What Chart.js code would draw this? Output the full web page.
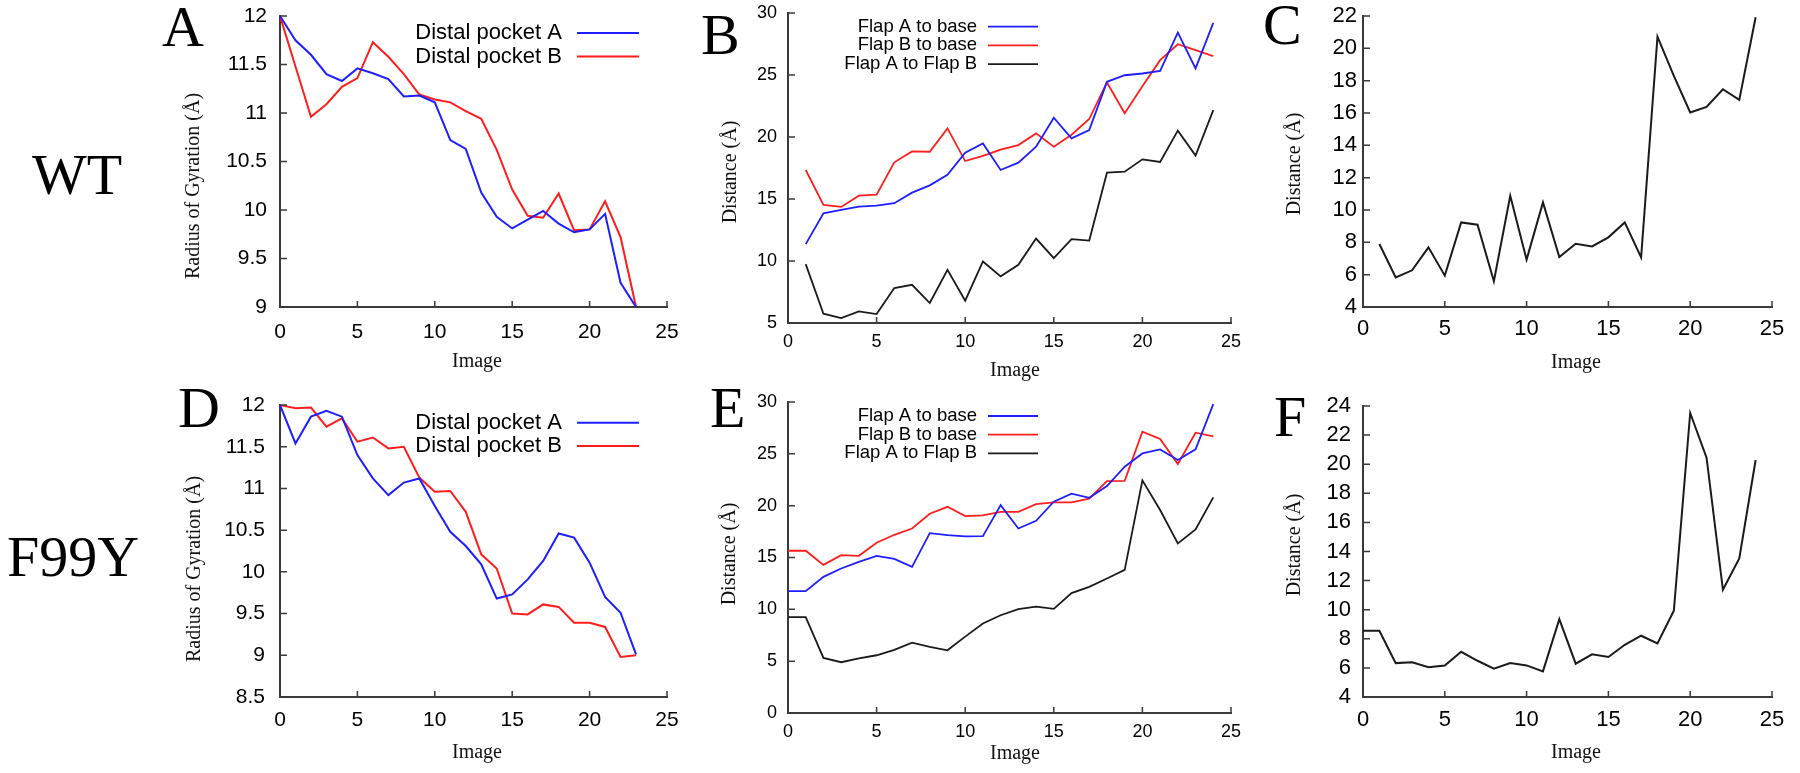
<!DOCTYPE html>
<html>
<head>
<meta charset="utf-8">
<script src="https://cdn.jsdelivr.net/npm/chart.js@4.4.1/dist/chart.umd.min.js"></script>
<style>
body { margin:0; background:#fff; width:1800px; height:773px; position:relative; overflow:hidden; }
canvas { position:absolute; }
.lbl { position:absolute; font-family:"Liberation Serif","Times New Roman",serif; font-size:58px; line-height:58px; color:#000; white-space:nowrap; }
</style>
</head>
<body>
<canvas id="cA"></canvas>
<canvas id="cB"></canvas>
<canvas id="cC"></canvas>
<canvas id="cD"></canvas>
<canvas id="cE"></canvas>
<canvas id="cF"></canvas>

<div class="lbl" style="left:32px;top:146px">WT</div>
<div class="lbl" style="left:7px;top:528px">F99Y</div>
<div class="lbl" style="left:162px;top:-2px">A</div>
<div class="lbl" style="left:701px;top:6px">B</div>
<div class="lbl" style="left:1263px;top:-4px">C</div>
<div class="lbl" style="left:178px;top:379px">D</div>
<div class="lbl" style="left:710px;top:379px">E</div>
<div class="lbl" style="left:1274px;top:388px">F</div>

<script>
// ---- data ----
// WT radius of gyration (A)
const imgA = [0,1,2,3,4,5,6,7,8,9,10,11,12,13,14,15,16,17,18,19,20,21,22,23];
const rgWT_pocketA = [12.0,11.75,11.6,11.4,11.33,11.46,11.41,11.35,11.17,11.18,11.11,10.72,10.63,10.18,9.93,9.81,9.9,9.99,9.86,9.77,9.8,9.96,9.25,9.0];
const rgWT_pocketB = [12.0,11.48,10.96,11.09,11.27,11.36,11.73,11.58,11.4,11.19,11.14,11.11,11.02,10.94,10.62,10.21,9.94,9.92,10.17,9.79,9.8,10.09,9.72,9.0];

// WT flap distances (B)
const imgB = [1,2,3,4,5,6,7,8,9,10,11,12,13,14,15,16,17,18,19,20,21,22,23,24];
const flapWT_A = [11.36,13.85,14.12,14.39,14.47,14.66,15.51,16.1,16.96,18.73,19.48,17.34,17.93,19.22,21.55,19.89,20.56,24.45,24.98,25.12,25.33,28.42,25.53,29.2];
const flapWT_B = [17.34,14.52,14.36,15.27,15.35,17.96,18.84,18.81,20.69,18.06,18.47,18.98,19.35,20.29,19.22,20.18,21.45,24.4,21.91,24.1,26.2,27.48,27.0,26.52];
const flapWT_AB = [9.75,5.75,5.4,5.94,5.72,7.82,8.08,6.61,9.29,6.8,9.96,8.76,9.69,11.81,10.23,11.76,11.65,17.12,17.2,18.2,17.99,20.51,18.5,22.17];

// WT distance (C)
const imgC = [1,2,3,4,5,6,7,8,9,10,11,12,13,14,15,16,17,18,19,20,21,22,23,24];
const distWT = [7.9,5.83,6.27,7.69,5.94,9.23,9.09,5.59,10.88,6.93,10.47,7.09,7.91,7.75,8.31,9.23,7.07,20.72,18.29,16.03,16.38,17.47,16.81,21.92];

// F99Y radius of gyration (D)
const imgD = [0,1,2,3,4,5,6,7,8,9,10,11,12,13,14,15,16,17,18,19,20,21,22,23];
const rgF_pocketA = [12.0,11.54,11.86,11.93,11.86,11.4,11.12,10.92,11.07,11.12,10.79,10.48,10.31,10.09,9.68,9.73,9.91,10.13,10.46,10.41,10.11,9.7,9.51,9.01];
const rgF_pocketB = [12.0,11.96,11.97,11.74,11.84,11.56,11.61,11.48,11.5,11.13,10.96,10.97,10.72,10.21,10.04,9.5,9.49,9.61,9.58,9.39,9.39,9.34,8.98,9.0];

// F99Y flap distances (E)
const imgE = [0,1,2,3,4,5,6,7,8,9,10,11,12,13,14,15,16,17,18,19,20,21,22,23,24];
const flapF_A = [11.75,11.75,13.13,13.94,14.58,15.16,14.87,14.1,17.35,17.16,17.03,17.06,20.05,17.8,18.54,20.38,21.15,20.76,21.89,23.76,25.04,25.43,24.4,25.43,29.8];
const flapF_B = [15.65,15.65,14.29,15.22,15.16,16.42,17.19,17.8,19.22,19.89,18.99,19.06,19.41,19.41,20.15,20.31,20.31,20.67,22.37,22.4,27.14,26.43,24.02,27.04,26.69];
const flapF_AB = [9.24,9.24,5.31,4.9,5.27,5.57,6.09,6.79,6.38,6.05,7.37,8.63,9.43,10.01,10.27,10.05,11.56,12.17,12.97,13.81,22.44,19.58,16.36,17.71,20.8];

// F99Y distance (F)
const imgF = [0,1,2,3,4,5,6,7,8,9,10,11,12,13,14,15,16,17,18,19,20,21,22,23,24];
const distF = [8.55,8.55,6.33,6.38,6.04,6.17,7.11,6.49,5.95,6.33,6.17,5.76,9.35,6.29,6.93,6.75,7.59,8.21,7.68,9.93,23.52,20.45,11.37,13.52,20.29];

// tick labels
const xTicks = [0,5,10,15,20,25];
const rgTicksWT = [9,9.5,10,10.5,11,11.5,12];
const rgTicksF = [8.5,9,9.5,10,10.5,11,11.5,12];
const flapTicksWT = [5,10,15,20,25,30];
const flapTicksF = [0,5,10,15,20,25,30];
const distTicksWT = [4,6,8,10,12,14,16,18,20,22];
const distTicksF = [4,6,8,10,12,14,16,18,20,22,24];

const BLUE = '#1e1eff', RED = '#ff1e1e', BLACK = '#1a1a1a', AXIS = '#3a3a3a';
const SANS = '"Liberation Sans", Arial, sans-serif';
const SERIF = '"Liberation Serif", "Times New Roman", serif';

function pts(xs, ys) { return xs.map((x, i) => ({x: x, y: ys[i]})); }

// gnuplot style: inward ticks, axis titles, key with sample line on the right
const gnuplotLook = {
  id: 'gnuplotLook',
  afterDraw(chart, args, o) {
    const {ctx, chartArea: a, scales: {x, y}} = chart;
    ctx.save();
    ctx.strokeStyle = AXIS;
    ctx.lineWidth = 1.5;
    ctx.beginPath();
    x.ticks.forEach(t => { const p = x.getPixelForValue(t.value); ctx.moveTo(p, a.bottom); ctx.lineTo(p, a.bottom - 6); });
    y.ticks.forEach(t => { const p = y.getPixelForValue(t.value); ctx.moveTo(a.left, p); ctx.lineTo(a.left + 7, p); });
    ctx.stroke();

    ctx.fillStyle = '#111';
    ctx.font = '20px ' + SERIF;
    ctx.textAlign = 'center';
    ctx.textBaseline = 'middle';
    ctx.fillText(o.xTitle, o.xAt[0], o.xAt[1]);
    ctx.save();
    ctx.translate(o.yAt[0], o.yAt[1]);
    ctx.rotate(-Math.PI / 2);
    ctx.fillText(o.yTitle, 0, 0);
    ctx.restore();

    if (o.key) {
      const k = o.key;
      ctx.font = k.size + 'px ' + SANS;
      ctx.textAlign = 'right';
      chart.data.datasets.forEach((ds, i) => {
        const ky = k.y + i * k.step;
        ctx.fillStyle = '#000';
        ctx.fillText(ds.label, k.x, ky);
        ctx.strokeStyle = ds.borderColor;
        ctx.lineWidth = ds.borderWidth;
        ctx.beginPath();
        ctx.moveTo(k.x + k.gap, ky);
        ctx.lineTo(k.x + k.gap + k.len, ky);
        ctx.stroke();
      });
    }
    ctx.restore();
  }
};

function makePanel(id, box, area, datasets, yTickVals, p) {
  const cv = document.getElementById(id);
  cv.width = box.w; cv.height = box.h;
  cv.style.left = box.l + 'px'; cv.style.top = box.t + 'px';
  return new Chart(cv.getContext('2d'), {
    type: 'line',
    data: { datasets: datasets },
    plugins: [gnuplotLook],
    options: {
      responsive: false,
      animation: false,
      layout: { autoPadding: false, padding: { top: area.t - box.t, right: box.l + box.w - area.r, left: 0, bottom: 0 } },
      elements: { point: { radius: 0 }, line: { tension: 0 } },
      plugins: {
        legend: { display: false },
        tooltip: { enabled: false },
        gnuplotLook: p.look
      },
      scales: {
        x: {
          type: 'linear', min: 0, max: 25,
          grid: { display: false, drawTicks: false },
          border: { display: true, color: AXIS, width: 2 },
          afterBuildTicks: s => { s.ticks = xTicks.map(v => ({value: v})); },
          afterFit: s => { s.height = box.t + box.h - area.b; s.paddingLeft = 0; s.paddingRight = 0; },
          ticks: { color: '#000', font: { family: SANS, size: p.xFont }, padding: p.xPad, maxRotation: 0, autoSkip: false, callback: v => String(v) }
        },
        y: {
          type: 'linear', min: yTickVals[0], max: yTickVals[yTickVals.length - 1],
          grid: { display: false, drawTicks: false },
          border: { display: true, color: AXIS, width: 2 },
          afterBuildTicks: s => { s.ticks = yTickVals.map(v => ({value: v})); },
          afterFit: s => { s.width = area.l - box.l; s.paddingTop = 0; s.paddingBottom = 0; },
          ticks: { color: '#000', font: { family: SANS, size: p.yFont }, padding: p.yPad, autoSkip: false, callback: v => String(v) }
        }
      }
    }
  });
}

function line(label, xs, ys, color, w) {
  return { label: label, data: pts(xs, ys), borderColor: color, borderWidth: w, fill: false };
}

makePanel('cA', {l:170, t:0, w:520, h:385}, {l:280, r:667, t:16, b:307},
  [line('Distal pocket A', imgA, rgWT_pocketA, BLUE, 2), line('Distal pocket B', imgA, rgWT_pocketB, RED, 2)],
  rgTicksWT,
  { xFont: 21, yFont: 21, xPad: 13, yPad: 13,
    look: { xTitle: 'Image', xAt: [307, 362], yTitle: 'Radius of Gyration (Å)', yAt: [24, 186],
            key: { x: 392, y: 33, step: 23.5, gap: 15, len: 62, size: 22 } } });

makePanel('cB', {l:700, t:0, w:560, h:385}, {l:788, r:1231, t:13, b:323},
  [line('Flap A to base', imgB, flapWT_A, BLUE, 1.8), line('Flap B to base', imgB, flapWT_B, RED, 1.8), line('Flap A to Flap B', imgB, flapWT_AB, BLACK, 1.8)],
  flapTicksWT,
  { xFont: 18, yFont: 18, xPad: 8, yPad: 11,
    look: { xTitle: 'Image', xAt: [315, 371], yTitle: 'Distance (Å)', yAt: [31, 172],
            key: { x: 277, y: 26.7, step: 18.7, gap: 11, len: 50, size: 18.5 } } });

makePanel('cC', {l:1270, t:0, w:530, h:385}, {l:1363, r:1772, t:16, b:307},
  [line('Distance', imgC, distWT, BLACK, 2)],
  distTicksWT,
  { xFont: 22, yFont: 22, xPad: 9, yPad: 6,
    look: { xTitle: 'Image', xAt: [306, 363], yTitle: 'Distance (Å)', yAt: [25, 164] } });

makePanel('cD', {l:170, t:385, w:520, h:388}, {l:280, r:667, t:405, b:697},
  [line('Distal pocket A', imgD, rgF_pocketA, BLUE, 2), line('Distal pocket B', imgD, rgF_pocketB, RED, 2)],
  rgTicksF,
  { xFont: 21, yFont: 21, xPad: 11, yPad: 15,
    look: { xTitle: 'Image', xAt: [307, 368], yTitle: 'Radius of Gyration (Å)', yAt: [25, 184],
            key: { x: 392, y: 37.7, step: 23.3, gap: 15, len: 62, size: 22 } } });

makePanel('cE', {l:700, t:385, w:560, h:388}, {l:788, r:1231, t:402, b:713},
  [line('Flap A to base', imgE, flapF_A, BLUE, 1.8), line('Flap B to base', imgE, flapF_B, RED, 1.8), line('Flap A to Flap B', imgE, flapF_AB, BLACK, 1.8)],
  flapTicksF,
  { xFont: 18, yFont: 18, xPad: 8, yPad: 11,
    look: { xTitle: 'Image', xAt: [315, 369], yTitle: 'Distance (Å)', yAt: [30, 169],
            key: { x: 277, y: 31, step: 18.7, gap: 11, len: 50, size: 18.5 } } });

makePanel('cF', {l:1270, t:385, w:530, h:388}, {l:1363, r:1772, t:406, b:697},
  [line('Distance', imgF, distF, BLACK, 2)],
  distTicksF,
  { xFont: 22, yFont: 22, xPad: 10, yPad: 12,
    look: { xTitle: 'Image', xAt: [306, 368], yTitle: 'Distance (Å)', yAt: [25, 160] } });
</script>
</body>
</html>
